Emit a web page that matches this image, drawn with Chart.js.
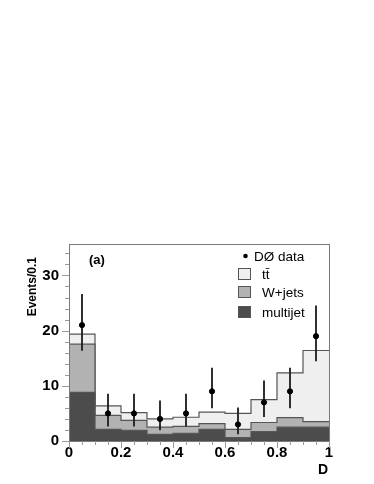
<!DOCTYPE html>
<html>
<head>
<meta charset="utf-8">
<script src="https://cdn.jsdelivr.net/npm/chart.js@4/dist/chart.umd.min.js"></script>
<style>
html,body{margin:0;padding:0;background:#fff;}
#wrap{width:374px;height:484px;position:relative;}
</style>
</head>
<body>
<div id="wrap"><canvas id="c" width="374" height="484"></canvas></div>
<script>
// ---- data ----
const binCenters = [0.05, 0.15, 0.25, 0.35, 0.45, 0.55, 0.65, 0.75, 0.85, 0.95];
const binWidth = 0.1;
const multijet = [8.8, 2.1, 1.95, 1.2, 1.4, 2.1, 0.6, 1.7, 2.5, 2.5];
const wjets    = [8.75, 2.55, 1.8, 1.3, 1.25, 1.05, 1.5, 1.65, 1.75, 1.0];
const ttbar    = [1.8, 1.7, 1.4, 1.5, 1.65, 2.1, 2.9, 4.15, 8.1, 12.9];
const dataCounts  = [21, 5, 5, 4, 5, 9, 3, 7, 9, 19];
const dataErrLow  = [16.4, 2.7, 2.7, 2.0, 2.7, 6.0, 1.3, 4.4, 6.0, 14.5];
const dataErrHigh = [26.6, 8.5, 8.5, 7.3, 8.5, 13.2, 6.0, 10.9, 13.2, 24.5];
const xTickValues = [0, 0.2, 0.4, 0.6, 0.8, 1];
const xTickLabels = ['0', '0.2', '0.4', '0.6', '0.8', '1'];
const yTickValues = [0, 10, 20, 30];
const yTickLabels = ['0', '10', '20', '30'];
const legendLabels = ['D\u00D8 data', 't\u0074\u0304', 'W+jets', 'multijet'];

// ---- derived stacks ----
const lvlMJ = multijet.slice();
const lvlWJ = multijet.map((v, i) => v + wjets[i]);
const lvlTT = lvlWJ.map((v, i) => v + ttbar[i]);
function steps(vals) {
  const pts = binCenters.map((c, i) => ({x: c - binWidth / 2, y: vals[i]}));
  const n = binCenters.length - 1;
  pts.push({x: binCenters[n] + binWidth / 2, y: vals[n]});
  return pts;
}

const COL_TT = '#efefef', COL_WJ = '#b2b2b2', COL_MJ = '#4c4c4c', COL_LINE = '#555555';
const FONT = '"Liberation Sans", Arial, Helvetica, sans-serif';

const decor = {
  id: 'decor',
  afterDatasetsDraw(chart) {
    const ctx = chart.ctx, a = chart.chartArea;
    const xs = chart.scales.x, ys = chart.scales.y;
    ctx.save();
    // frame
    ctx.strokeStyle = '#7a7a7a';
    ctx.lineWidth = 1;
    ctx.strokeRect(Math.round(a.left) + 0.5, Math.round(a.top) + 0.5,
                   Math.round(a.right - a.left), Math.round(a.bottom - a.top));
    // y ticks (outside, left)
    ctx.strokeStyle = '#9a9a9a';
    for (let v = 0; v <= ys.max + 1e-9; v += 2) {
      const y = Math.round(ys.getPixelForValue(v)) + 0.5;
      const len = (v % 10 === 0) ? 7 : 4;
      ctx.beginPath(); ctx.moveTo(a.left - len, y); ctx.lineTo(a.left, y); ctx.stroke();
    }
    // x ticks (outside, bottom)
    for (let k = 0; k <= 20; k++) {
      const v = k * 0.05;
      const x = Math.round(xs.getPixelForValue(v)) + 0.5;
      const len = (k % 4 === 0) ? 7 : 4;
      ctx.beginPath(); ctx.moveTo(x, a.bottom); ctx.lineTo(x, a.bottom + len); ctx.stroke();
    }
    // (a)
    ctx.fillStyle = '#000';
    ctx.font = 'bold 13px ' + FONT;
    ctx.textBaseline = 'middle';
    ctx.textAlign = 'left';
    ctx.fillText('(a)', a.left + 20, a.top + 16);
    // axis titles
    ctx.font = 'bold 14px ' + FONT;
    ctx.textAlign = 'center';
    ctx.fillText('D', a.right - 6, 470);
    ctx.save();
    ctx.translate(33, 0);
    ctx.rotate(-Math.PI / 2);
    ctx.font = 'bold 12px ' + FONT;
    ctx.textAlign = 'right';
    ctx.fillText('Events/0.1', -257, 0);
    ctx.restore();
    // legend
    const lx = 238, tx = 262;
    const rows = [256, 274, 292, 312];
    ctx.font = '13.5px ' + FONT;
    ctx.textAlign = 'left';
    ctx.fillStyle = '#000';
    ctx.beginPath(); ctx.arc(245.5, rows[0], 2.3, 0, Math.PI * 2); ctx.fill();
    ctx.fillText(legendLabels[0], 254, rows[0] + 1);
    const fills = [COL_TT, COL_WJ, COL_MJ];
    for (let i = 1; i < 4; i++) {
      ctx.fillStyle = fills[i - 1];
      ctx.fillRect(lx, rows[i] - 6, 13, 12);
      ctx.strokeStyle = '#555';
      ctx.strokeRect(lx + 0.5, rows[i] - 5.5, 12, 11);
      ctx.fillStyle = '#000';
      ctx.fillText(legendLabels[i], tx, rows[i] + 1);
    }
    ctx.restore();
  }
};

const lineDs = (label, vals, fillCol, order) => ({
  type: 'line', label, data: steps(vals), stepped: 'before',
  borderColor: COL_LINE, borderWidth: 1.2, backgroundColor: fillCol,
  fill: 'origin', pointRadius: 0, order
});

new Chart(document.getElementById('c'), {
  type: 'line',
  data: {
    datasets: [
      {
        type: 'scatter', label: 'data',
        data: binCenters.map((c, i) => ({x: c, y: dataCounts[i]})),
        backgroundColor: '#000', borderColor: '#000', pointRadius: 2.6, order: 0
      },
      {
        type: 'bar', label: 'err',
        data: binCenters.map((c, i) => ({x: c, y: [dataErrLow[i], dataErrHigh[i]]})),
        backgroundColor: '#222', borderWidth: 0, barThickness: 1.2, grouped: false, order: 1
      },
      lineDs('multijet', lvlMJ, COL_MJ, 2),
      lineDs('W+jets', lvlWJ, COL_WJ, 3),
      lineDs('ttbar', lvlTT, COL_TT, 4)
    ]
  },
  options: {
    responsive: false,
    animation: false,
    devicePixelRatio: 1,
    layout: {padding: {left: 0, right: 45, top: 244, bottom: 0}},
    plugins: {legend: {display: false}, tooltip: {enabled: false}},
    scales: {
      x: {
        type: 'linear', min: 0, max: 1, offset: false,
        afterFit: s => { s.height = 43; },
        afterBuildTicks: s => { s.ticks = xTickValues.map(v => ({value: v})); },
        grid: {display: false, drawTicks: false},
        border: {display: false},
        ticks: {padding: 3, maxRotation: 0, autoSkip: false, color: '#000',
                callback: (v, i) => xTickLabels[i],
                font: {family: FONT, size: 15, weight: 'bold'}}
      },
      y: {
        type: 'linear', min: 0, max: 35.7,
        afterFit: s => { s.width = 69; },
        afterBuildTicks: s => { s.ticks = yTickValues.map(v => ({value: v})); },
        grid: {display: false, drawTicks: false},
        border: {display: false},
        ticks: {padding: 10, color: '#000',
                callback: (v, i) => yTickLabels[i],
                font: {family: FONT, size: 15, weight: 'bold'}}
      }
    }
  },
  plugins: [decor]
});
</script>
</body>
</html>
